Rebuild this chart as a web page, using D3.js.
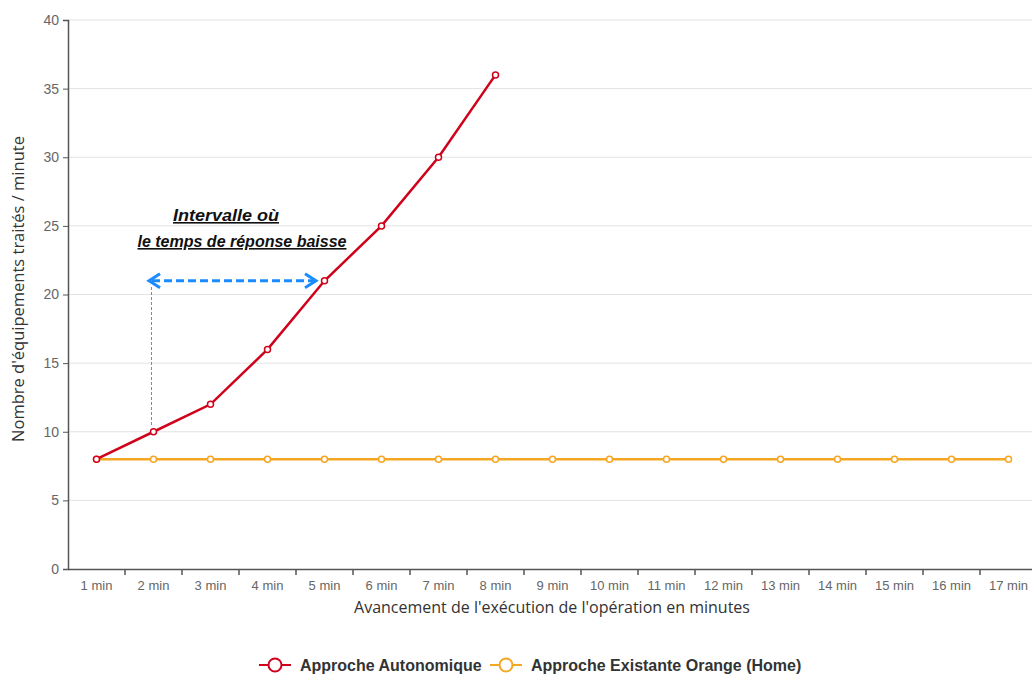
<!DOCTYPE html>
<html>
<head>
<meta charset="utf-8">
<script src="https://cdn.jsdelivr.net/npm/d3@7/dist/d3.min.js"></script>
<style>
  body { margin: 0; background: #fff; }
  svg { display: block; overflow: hidden; }
  text { font-family: "Liberation Sans", Arial, sans-serif; }
</style>
</head>
<body>
<svg id="chart"></svg>
<script>
// data
var categories = ['1 min', '2 min', '3 min', '4 min', '5 min', '6 min', '7 min', '8 min', '9 min',
  '10 min', '11 min', '12 min', '13 min', '14 min', '15 min', '16 min', '17 min'];
var autonome_values = [8, 10, 12, 16, 21, 25, 30, 36];
var existante_values = [8, 8, 8, 8, 8, 8, 8, 8, 8, 8, 8, 8, 8, 8, 8, 8, 8];
var y_ticks = [0, 5, 10, 15, 20, 25, 30, 35, 40];
var series_names = ['Approche Autonomique', 'Approche Existante Orange (Home)'];

var svg_width = 1032,
  svg_height = 674,
  margin = { left: 68, top: 20, bottom: 105 },
  plot_right = 1037; // the chart is wider than the picture, right part is cut

var red = '#d0021b',
  orange = '#f5a623';

var svg = d3.select('#chart').attr('width', svg_width).attr('height', svg_height);

var x = d3.scaleBand().domain(categories).range([margin.left, plot_right]);
var y = d3.scaleLinear().domain([0, 40]).range([svg_height - margin.bottom, margin.top]);

// grid lines
svg.append('g')
  .selectAll('line')
  .data(y_ticks.slice(1))
  .enter()
  .append('line')
  .attr('x1', margin.left)
  .attr('x2', plot_right)
  .attr('y1', function(d) { return y(d); })
  .attr('y2', function(d) { return y(d); })
  .attr('stroke', '#e3e3e3')
  .attr('stroke-width', 1);

// y axis
var y_axis = svg.append('g')
  .attr('transform', 'translate(' + margin.left + ',0)')
  .call(d3.axisLeft(y).tickValues(y_ticks).tickSize(5).tickPadding(4));
y_axis.select('.domain').attr('stroke', '#555').attr('stroke-width', 1.5);
y_axis.selectAll('.tick line').attr('stroke', '#555');
y_axis.selectAll('text').attr('fill', '#666').style('font-size', '14px');

// x axis
var x_axis = svg.append('g')
  .attr('transform', 'translate(0,' + y(0) + ')')
  .call(d3.axisBottom(x).tickSize(0).tickPadding(12));
x_axis.select('.domain').attr('stroke', '#555').attr('stroke-width', 1.5);
x_axis.selectAll('text').attr('fill', '#666').style('font-size', '13px');
// ticks between categories
x_axis.selectAll('.sep')
  .data(categories.slice(1))
  .enter()
  .append('line')
  .attr('class', 'sep')
  .attr('x1', function(d) { return x(d); })
  .attr('x2', function(d) { return x(d); })
  .attr('y1', 0)
  .attr('y2', 6)
  .attr('stroke', '#555')
  .attr('stroke-width', 1.5);

// axis titles
svg.append('text')
  .attr('transform', 'translate(24,' + 289 + ') rotate(-90)')
  .attr('text-anchor', 'middle')
  .attr('fill', '#333')
  .style('font-family', '"Open Sans", sans-serif')
  .style('font-size', '16.5px')
  .text("Nombre d'équipements traités / minute");

svg.append('text')
  .attr('x', 552)
  .attr('y', 613)
  .attr('text-anchor', 'middle')
  .attr('fill', '#333')
  .style('font-family', '"Open Sans", sans-serif')
  .style('font-size', '16px')
  .text("Avancement de l'exécution de l'opération en minutes");

// lines
var line = d3.line()
  .x(function(d, i) { return x(categories[i]) + x.bandwidth() / 2; })
  .y(function(d) { return y(d); });

function draw_series(values, color) {
  svg.append('path')
    .datum(values)
    .attr('d', line)
    .attr('fill', 'none')
    .attr('stroke', color)
    .attr('stroke-width', 2.5);
  svg.append('g')
    .selectAll('circle')
    .data(values)
    .enter()
    .append('circle')
    .attr('cx', function(d, i) { return x(categories[i]) + x.bandwidth() / 2; })
    .attr('cy', function(d) { return y(d); })
    .attr('r', 3)
    .attr('fill', '#fff')
    .attr('stroke', color)
    .attr('stroke-width', 1.5);
}
draw_series(existante_values, orange);
draw_series(autonome_values, red);

// annotation
var cx2 = x(categories[1]) + x.bandwidth() / 2;
svg.append('line')
  .attr('x1', cx2 - 2).attr('x2', cx2 - 2)
  .attr('y1', 287).attr('y2', y(10) - 6)
  .attr('stroke', '#888')
  .attr('stroke-width', 1)
  .attr('stroke-dasharray', '3,2');

var arrow_y = y(21);
svg.append('line')
  .attr('x1', 152).attr('x2', 314)
  .attr('y1', arrow_y).attr('y2', arrow_y)
  .attr('stroke', '#1a8cff')
  .attr('stroke-width', 3)
  .attr('stroke-dasharray', '8,4');
svg.append('path')
  .attr('d', 'M160,' + (arrow_y - 7) + ' L149,' + arrow_y + ' L160,' + (arrow_y + 7))
  .attr('fill', 'none').attr('stroke', '#1a8cff').attr('stroke-width', 3);
svg.append('path')
  .attr('d', 'M305,' + (arrow_y - 7) + ' L316,' + arrow_y + ' L305,' + (arrow_y + 7))
  .attr('fill', 'none').attr('stroke', '#1a8cff').attr('stroke-width', 3);

var note = svg.append('g')
  .style('font-family', '"Liberation Sans", sans-serif')
  .style('font-weight', 'bold')
  .style('font-style', 'italic')
  .style('font-size', '16px')
  .attr('fill', '#111')
  .attr('text-anchor', 'middle')
  .style('text-decoration', 'underline');
note.append('text').attr('x', 226).attr('y', 221)
  .attr('textLength', 106).attr('lengthAdjust', 'spacingAndGlyphs')
  .text('Intervalle où');
note.append('text').attr('x', 242).attr('y', 247)
  .text('le temps de réponse baisse');

// legend
var legend_items = [
  { name: series_names[0], color: red, x: 259 },
  { name: series_names[1], color: orange, x: 490 }
];
var legend = svg.append('g')
  .selectAll('g')
  .data(legend_items)
  .enter()
  .append('g')
  .attr('transform', function(d) { return 'translate(' + d.x + ',665)'; });
legend.append('line')
  .attr('x1', 0).attr('x2', 32).attr('y1', 0).attr('y2', 0)
  .attr('stroke', function(d) { return d.color; })
  .attr('stroke-width', 2);
legend.append('circle')
  .attr('cx', 16).attr('cy', 0).attr('r', 6.5)
  .attr('fill', '#fff')
  .attr('stroke', function(d) { return d.color; })
  .attr('stroke-width', 2);
legend.append('text')
  .attr('x', 41).attr('y', 5.5)
  .attr('fill', '#333')
  .style('font-size', '16px')
  .style('font-weight', 'bold')
  .text(function(d) { return d.name; });
</script>
</body>
</html>
